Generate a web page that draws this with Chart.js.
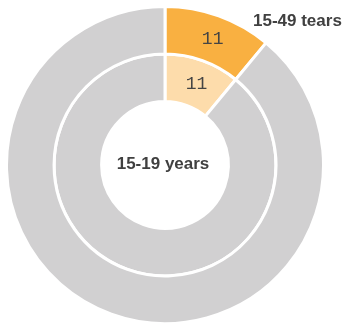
<!DOCTYPE html>
<html>
<head>
<meta charset="utf-8">
<script src="https://cdn.jsdelivr.net/npm/chart.js@4"></script>
<style>
  html, body { margin: 0; padding: 0; background: #fff; }
  #wrap { width: 345px; height: 324px; position: relative; }
</style>
</head>
<body>
<div id="wrap"><canvas id="chart"></canvas></div>
<script>
// ring data (share, percent)
const segments = ['share', 'rest'];
const outerValues = [11, 89];   // 15-49 years
const innerValues = [11, 89];   // 15-19 years
const outerLabel = '15-49 tears';
const centerLabel = '15-19 years';

const outerColors = ['#f9b041', '#d1d0d1'];
const innerColors = ['#fddcab', '#d1d0d1'];

// draws the value on the highlighted slice plus the two ring captions
const ringLabels = {
    id: 'ringLabels',
    afterDatasetsDraw(chart) {
        const ctx = chart.ctx;
        ctx.save();
        ctx.fillStyle = '#444';
        ctx.font = '18px "Liberation Mono", "DejaVu Sans Mono", monospace';
        ctx.textAlign = 'center';
        ctx.textBaseline = 'middle';
        chart.data.datasets.forEach((ds, i) => {
            const arc = chart.getDatasetMeta(i).data[0];
            const p = arc.getCenterPoint();
            ctx.fillText(String(ds.data[0]), p.x + 2, p.y + 1);
        });

        const arc0 = chart.getDatasetMeta(0).data[0];
        ctx.fillStyle = '#404040';
        ctx.font = 'bold 17px "Liberation Sans", Arial, sans-serif';
        ctx.fillText(centerLabel, arc0.x - 2, arc0.y - 1);
        ctx.textAlign = 'left';
        ctx.fillText(outerLabel, arc0.x + 88, arc0.y - 144);
        ctx.restore();
    }
};

new Chart(document.getElementById('chart'), {
    type: 'doughnut',
    data: {
        labels: segments,
        datasets: [
            { data: outerValues, backgroundColor: outerColors, borderColor: '#fff', borderWidth: 3 },
            { data: innerValues, backgroundColor: innerColors, borderColor: '#fff', borderWidth: 3 }
        ]
    },
    options: {
        responsive: true,
        maintainAspectRatio: false,
        animation: false,
        radius: 158.5,
        cutout: '40%',
        layout: { padding: { left: 8, top: 8, right: 23, bottom: 2 } },
        plugins: {
            legend: { display: false },
            tooltip: { enabled: false }
        }
    },
    plugins: [ringLabels]
});
</script>
</body>
</html>
